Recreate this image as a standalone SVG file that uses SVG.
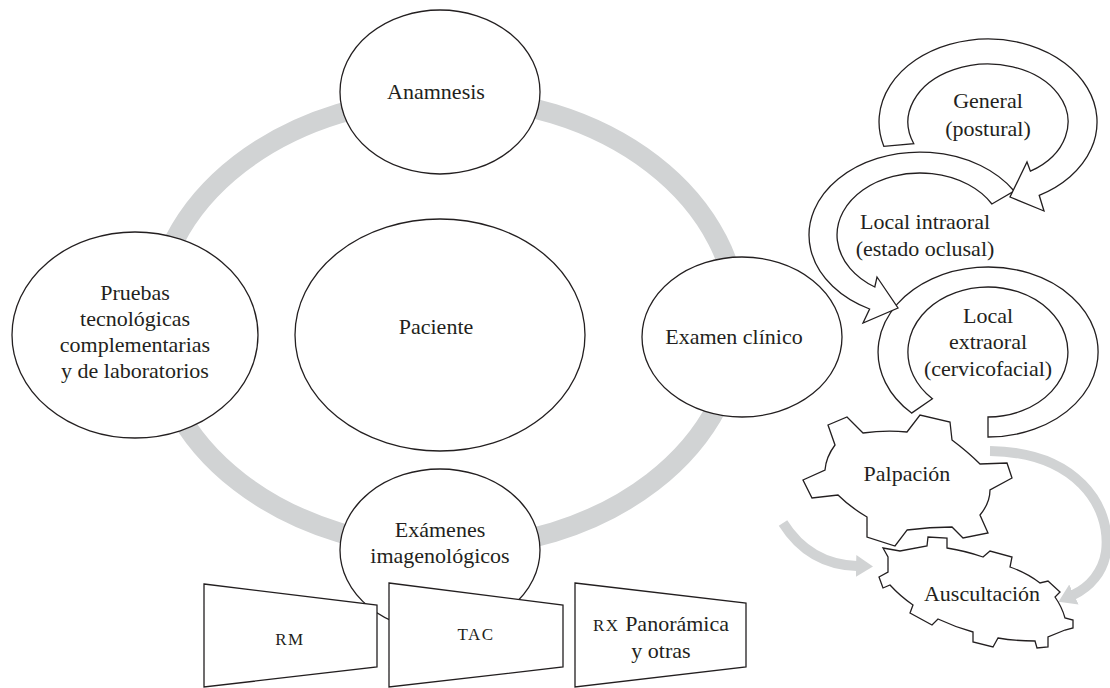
<svg xmlns="http://www.w3.org/2000/svg" width="1110" height="688" viewBox="0 0 1110 688">
<style>
.n{fill:#fff;stroke:#231f20;stroke-width:1.3}
.t{font-family:"Liberation Serif","Times New Roman",serif;font-size:22px;fill:#231f20;text-anchor:middle}
.sc{font-size:17px;letter-spacing:1.5px}
.g{fill:none;stroke:#d1d3d4}
</style>
<defs>
<marker id="ah" markerUnits="userSpaceOnUse" markerWidth="20" markerHeight="24" refX="1" refY="12" orient="auto" viewBox="0 0 20 24">
<path d="M0,1 L17,12 L0,23 z" fill="#d1d3d4"/>
</marker>
</defs>
<rect width="1110" height="688" fill="#fff"/>
<g id="connectors">
<ellipse class="g" cx="446" cy="323" rx="292" ry="225" stroke-width="20"/>
<path class="g" stroke-width="10" d="M990,451 C1075,452 1112,505 1106,552 C1103,572 1090,587 1073,595" marker-end="url(#ah)"/>
<path class="g" stroke-width="10" d="M783,523 C800,550 825,565 857,566" marker-end="url(#ah)"/>
</g>
<g id="anamnesis"><ellipse class="n" cx="440" cy="92" rx="100" ry="82"/><text class="t" x="436" y="99">Anamnesis</text></g>
<g id="pruebas"><ellipse class="n" cx="135" cy="335" rx="123" ry="103"/>
<text class="t" x="135" y="300">Pruebas</text><text class="t" x="135" y="326">tecnológicas</text><text class="t" x="135" y="352">complementarias</text><text class="t" x="135" y="378">y de laboratorios</text></g>
<g id="paciente"><ellipse class="n" cx="440" cy="335" rx="145" ry="116"/><text class="t" x="436" y="334">Paciente</text></g>
<g id="examen-clinico"><ellipse class="n" cx="742" cy="337" rx="100" ry="80"/><text class="t" x="734" y="344">Examen clínico</text></g>
<g id="examenes"><ellipse class="n" cx="440" cy="550" rx="100" ry="81"/><text class="t" x="440" y="537">Exámenes</text><text class="t" x="440" y="563">imagenológicos</text></g>
<g id="rm"><path class="n" d="M204,584 L377,605 L377,667 L204,687 Z"/><text class="t sc" x="290" y="645">RM</text></g>
<g id="tac"><path class="n" d="M389,583 L563,605 L563,667 L389,687 Z"/><text class="t sc" x="476" y="640">TAC</text></g>
<g id="rx"><path class="n" d="M575,583 L746,603 L746,667 L575,687 Z"/><text class="t" x="661" y="631"><tspan class="sc">RX</tspan> Panorámica</text><text class="t" x="661" y="658">y otras</text></g>
<g id="extraoral"><path class="n" d="M911.6,413.1 A110 85 0 1 1 988,437 L988,417 A80 65 0 1 0 932.4,398.8 Z"/>
<text class="t" x="988" y="323">Local</text><text class="t" x="988" y="349">extraoral</text><text class="t" x="988" y="376">(cervicofacial)</text></g>
<g id="intraoral"><path class="n" d="M1014.1,191 A111 83 0 1 0 869.6,309 L863,323 L898,308 L877,277 L874.8,287 A83 62 0 1 1 991.9,204 Z"/>
<text class="t" x="925" y="229">Local intraoral</text><text class="t" x="925" y="256">(estado oclusal)</text></g>
<g id="general"><path class="n" d="M883.8,146.3 A109 83 0 1 1 1039.2,195.3 L1044,211 L1010,197 L1027,162 L1030.4,171.2 A80 58 0 1 0 913.8,143.7 Z"/>
<text class="t" x="988" y="108">General</text><text class="t" x="988" y="136">(postural)</text></g>
<g id="auscultacion"><path class="n" d="M883,548 L900,551 L927,546 L928,537 L947,538 L947,548 Q966,551 983,557 L990,551 L1012,557 L1010,567 Q1027,573 1040,583 L1048,581 L1060,592 L1055,597 Q1062,607 1065,618 L1073,620 L1073,628 L1065,630 L1048,637 L1048,647 L1037,648 L1035,641 Q1015,641 998,638 L993,647 L973,642 L973,632 Q955,627 938,619 L932,625 L910,613 L913,605 Q900,596 890,585 L883,588 L879,577 L888,572 L888,557 Z"/>
<text class="t" x="982" y="601">Auscultación</text></g>
<g id="palpacion"><path class="n" d="M828,425 L847,417 L863,433 Q885,430 907,432 L920,415 L950,422 L952,440 Q968,452 980,464 L1007,463 L1012,478 L990,490 Q990,503 980,515 L988,533 L963,538 L952,527 Q930,527 907,530 L895,546 L867,537 L867,517 Q850,507 838,495 L812,498 L803,480 L825,470 Q826,457 835,445 Z"/>
<text class="t" x="907" y="481">Palpación</text></g>
</svg>
